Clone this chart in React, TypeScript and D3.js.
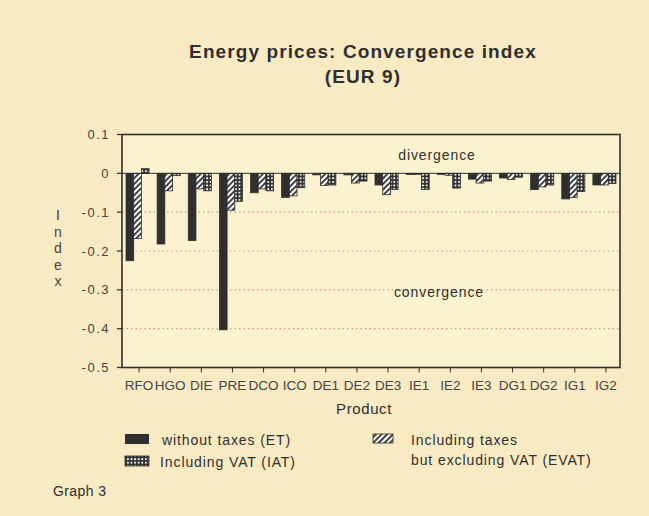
import React from "react";
import * as d3 from "d3";

const categories = ["RFO", "HGO", "DIE", "PRE", "DCO", "ICO", "DE1", "DE2", "DE3", "IE1", "IE2", "IE3", "DG1", "DG2", "IG1", "IG2"];
const etValues = [-0.225, -0.182, -0.173, -0.403, -0.05, -0.062, -0.004, -0.004, -0.03, -0.003, -0.003, -0.015, -0.012, -0.042, -0.066, -0.03];
const evatValues = [-0.168, -0.045, -0.04, -0.095, -0.04, -0.058, -0.031, -0.025, -0.055, -0.003, -0.005, -0.025, -0.016, -0.035, -0.062, -0.03];
const iatValues = [0.012, -0.006, -0.045, -0.072, -0.045, -0.037, -0.03, -0.02, -0.042, -0.042, -0.038, -0.02, -0.01, -0.03, -0.047, -0.026];
const yTicks = [0.1, 0, -0.1, -0.2, -0.3, -0.4, -0.5];
const gridTicks = [-0.1, -0.2, -0.3, -0.4];
const seriesNames = ["without taxes (ET)", "Including VAT (IAT)", "Including taxes", "but excluding VAT (EVAT)"];

const W = 649, H = 516;
const left = 122, right = 620, top = 134.5, bottom = 367.5;
const ink = "#2f2f2f";
const font = "Liberation Sans, Arial, sans-serif";

export default function App() {
  const x = d3.scaleBand<string>().domain(categories).range([left, right]).padding(0);
  const y = d3.scaleLinear().domain([-0.5, 0.1]).range([bottom, top]);
  const bw = 7.7;
  const series = [
    { vals: etValues, fill: ink, off: -1.5 },
    { vals: evatValues, fill: "url(#diag)", off: -0.5 },
    { vals: iatValues, fill: "url(#grid)", off: 0.5 },
  ];
  const fmt = (v: number) => (v === 0 ? "0" : d3.format(".1f")(v).replace("−", "-"));
  return (
    <svg width={W} height={H} style={{ position: "absolute", left: 0, top: 0 }} fontFamily={font}>
      <defs>
        <pattern id="diag" width="4" height="4" patternUnits="userSpaceOnUse" patternTransform="rotate(45)">
          <rect width="4" height="4" fill="#fff" />
          <rect width="1.8" height="4" fill={ink} />
        </pattern>
        <pattern id="grid" width="3.6" height="3.6" patternUnits="userSpaceOnUse">
          <rect width="3.6" height="3.6" fill={ink} />
          <rect x="1" y="1" width="1.8" height="1.8" fill="#fff" />
        </pattern>
      </defs>
      <rect width={W} height={H} fill="#f8eac2" />
      <rect x={left} y={top} width={right - left} height={bottom - top} fill="#fcf2cf" />
      <text x={363} y={58} textAnchor="middle" fontSize={19} fontWeight="bold" letterSpacing={1.1} fill={ink}>Energy prices: Convergence index</text>
      <text x={363} y={83} textAnchor="middle" fontSize={19} fontWeight="bold" letterSpacing={1.1} fill={ink}>(EUR 9)</text>
      {gridTicks.map((t) => (
        <line key={t} x1={left} x2={right} y1={y(t)} y2={y(t)} stroke="#d89a7a" strokeWidth={1.2} strokeDasharray="1.5,3" />
      ))}
      <text x={437} y={160} textAnchor="middle" fontSize={14} letterSpacing={0.9} fill={ink}>divergence</text>
      <text x={439} y={297} textAnchor="middle" fontSize={14} letterSpacing={0.9} fill={ink}>convergence</text>
      {series.map((s, si) =>
        categories.map((c, i) => {
          const v = s.vals[i];
          const cx = (x(c) as number) + x.bandwidth() / 2;
          const y0 = y(Math.max(0, v));
          const y1 = y(Math.min(0, v));
          return (
            <rect key={si + "-" + c} x={cx + s.off * bw} y={y0} width={bw} height={Math.max(1, y1 - y0)} fill={s.fill} stroke={ink} strokeWidth={0.8} />
          );
        })
      )}
      <line x1={left} x2={right} y1={y(0)} y2={y(0)} stroke={ink} strokeWidth={1} />
      <rect x={left} y={top} width={right - left} height={bottom - top} fill="none" stroke={ink} strokeWidth={1.6} />
      {yTicks.map((t) => (
        <g key={t}>
          <line x1={left - 5} x2={left} y1={y(t)} y2={y(t)} stroke={ink} strokeWidth={1.2} />
          <text x={110} y={y(t) + 4.5} textAnchor="end" fontSize={13} letterSpacing={1.5} fill="#444">{fmt(t)}</text>
        </g>
      ))}
      {categories.map((c) => {
        const cx = (x(c) as number) + x.bandwidth() / 2 + 1.5;
        return (
          <g key={c}>
            <line x1={cx} x2={cx} y1={bottom} y2={bottom + 5} stroke={ink} strokeWidth={1} />
            <text x={cx} y={390} textAnchor="middle" fontSize={13.5} fill="#444">{c}</text>
          </g>
        );
      })}
      <text x={364} y={414} textAnchor="middle" fontSize={15} letterSpacing={0.6} fill={ink}>Product</text>
      {"Index".split("").map((ch, i) => (
        <text key={i} x={58} y={220 + i * 16.5} textAnchor="middle" fontSize={14} fill="#444">{ch}</text>
      ))}
      <rect x={125} y={434} width={24} height={10} fill={ink} />
      <text x={162} y={445} fontSize={14} letterSpacing={0.9} fill={ink}>{seriesNames[0]}</text>
      <rect x={125} y={456} width={24} height={10} fill="url(#grid)" stroke={ink} strokeWidth={0.8} />
      <text x={160} y={467} fontSize={14} letterSpacing={0.9} fill={ink}>{seriesNames[1]}</text>
      <rect x={373} y={434} width={20} height={9} fill="url(#diag)" stroke={ink} strokeWidth={0.8} />
      <text x={411} y={445} fontSize={14} letterSpacing={0.9} fill={ink}>{seriesNames[2]}</text>
      <text x={411} y={465} fontSize={14} letterSpacing={0.9} fill={ink}>{seriesNames[3]}</text>
      <text x={53} y={496} fontSize={14} letterSpacing={0.4} fill={ink}>Graph 3</text>
    </svg>
  );
}
